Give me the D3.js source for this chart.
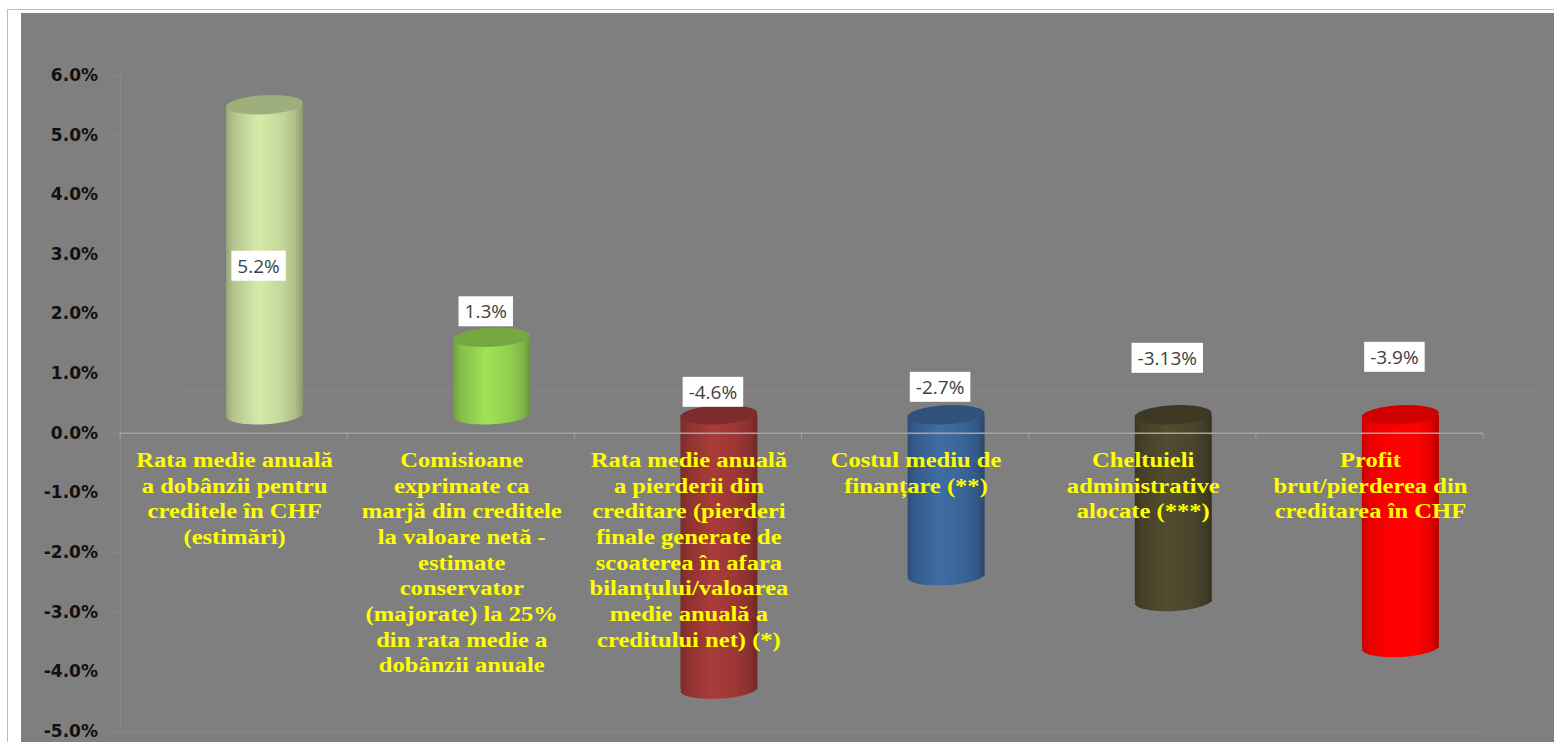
<!DOCTYPE html>
<html><head><meta charset="utf-8">
<script src="https://cdn.jsdelivr.net/npm/d3@7"></script>
<style>html,body{margin:0;padding:0;background:#fff;overflow:hidden}</style>
</head><body><svg id="chart" width="1554" height="742"></svg>
<script>
// ---------- DATA ----------
const categories = [
  "Rata medie anuală\na dobânzii pentru\ncreditele în CHF\n(estimări)",
  "Comisioane\nexprimate ca\nmarjă din creditele\nla valoare netă -\nestimate\nconservator\n(majorate) la 25%\ndin rata medie a\ndobânzii anuale",
  "Rata medie anuală\na pierderii din\ncreditare (pierderi\nfinale generate de\nscoaterea în afara\nbilanțului/valoarea\nmedie anuală a\ncreditului net) (*)",
  "Costul mediu de\nfinanțare (**)",
  "Cheltuieli\nadministrative\nalocate (***)",
  "Profit\nbrut/pierderea din\ncreditarea în CHF"
];
const values = [5.2, 1.3, -4.6, -2.7, -3.13, -3.9];
const valueLabels = ["5.2%", "1.3%", "-4.6%", "-2.7%", "-3.13%", "-3.9%"];
const yTicks = [6, 5, 4, 3, 2, 1, 0, -1, -2, -3, -4, -5];

// ---------- STYLE / LAYOUT ----------
const barColors = ["#c4d79b", "#92d050", "#9b3735", "#3a6497", "#4b462c", "#ff0000"];
const labelRaise = [null, 26, 23, 28, 57, 58]; // px above the cylinder's top face (null = centred)
const W = 1554, H = 742;
const mLeft = 120, mRight = 1483, mTop = 75, mBottom = 731;
const depthX = 63, depthY = -41;        // back wall offset
const barShiftX = 31, barShiftY = -18;  // bars sit mid-depth
const svg = d3.select("#chart");

const y = d3.scaleLinear().domain([-5, 6]).range([mBottom, mTop]);
const x = d3.scaleBand().domain(d3.range(categories.length)).range([mLeft, mRight]).padding(0);
const barW = 77, ry = 9.5;

// frame and background
svg.append("rect").attr("x", 7.5).attr("y", 9.5).attr("width", W).attr("height", H)
  .attr("fill", "#fff").attr("stroke", "#bdbdbd");
svg.append("rect").attr("x", 21).attr("y", 13).attr("width", W - 21).attr("height", H - 13).attr("fill", "#7f7f7f");

const faint = "#888888";
// back wall & floor edges
svg.append("line").attr("x1", mLeft + depthX).attr("x2", mRight + depthX)
  .attr("y1", y(6) + depthY).attr("y2", y(6) + depthY).attr("stroke", "#848484");
svg.append("line").attr("x1", mRight + depthX - 3).attr("x2", mRight + depthX - 3)
  .attr("y1", y(6) + depthY).attr("y2", y(0) + depthY).attr("stroke", "#848484");
svg.append("line").attr("x1", mLeft + depthX).attr("x2", mRight + depthX - 3)
  .attr("y1", y(0) + depthY).attr("y2", y(0) + depthY).attr("stroke", faint);
// bottom edge
svg.append("line").attr("x1", mLeft).attr("x2", mRight)
  .attr("y1", y(-5) + 0.5).attr("y2", y(-5) + 0.5).attr("stroke", faint);

// y axis
const yAxis = d3.axisLeft(y).tickValues(yTicks).tickSize(7).tickPadding(15)
  .tickFormat(d => d.toFixed(1) + "%");
const ga = svg.append("g").attr("transform", `translate(${mLeft},0)`).call(yAxis);
ga.select(".domain").attr("stroke", faint);
ga.selectAll(".tick line").attr("stroke", faint);
ga.selectAll(".tick text").attr("fill", "#111")
  .style("font-family", "'DejaVu Sans', Verdana, sans-serif").style("font-weight", "bold").style("font-size", "17px");

// gradients
const defs = svg.append("defs");
barColors.forEach((c, i) => {
  const col = d3.color(c);
  const g = defs.append("linearGradient").attr("id", "g" + i).attr("x1", 0).attr("x2", 1).attr("y1", 0).attr("y2", 0);
  [[0, col.darker(0.7)], [0.1, col.darker(0.25)], [0.42, col.brighter(0.25)], [0.72, col], [0.9, col.darker(0.35)], [1, col.darker(0.95)]]
    .forEach(([o, cc]) => g.append("stop").attr("offset", o).attr("stop-color", cc.formatHex()));
});

// cylinders
const bars = svg.append("g");
values.forEach((v, i) => {
  const cx = x(i) + x.bandwidth() / 2 + barShiftX;
  const yTop = Math.min(y(v), y(0)) + barShiftY;
  const yBot = Math.max(y(v), y(0)) + barShiftY;
  const g = bars.append("g");
  g.append("ellipse").attr("cx", cx).attr("cy", yBot).attr("rx", barW / 2).attr("ry", ry)
    .attr("transform", `rotate(-3,${cx},${yBot})`).attr("fill", `url(#g${i})`);
  g.append("rect").attr("x", cx - barW / 2).attr("y", yTop).attr("width", barW).attr("height", yBot - yTop)
    .attr("fill", `url(#g${i})`);
  g.append("ellipse").attr("cx", cx).attr("cy", yTop).attr("rx", barW / 2).attr("ry", ry)
    .attr("transform", `rotate(-3,${cx},${yTop})`)
    .attr("fill", d3.color(barColors[i]).darker(0.6).formatHex());
});

// front floor edge (drawn over bars)
svg.append("line").attr("x1", mLeft).attr("x2", mRight).attr("y1", y(0) + 0.5).attr("y2", y(0) + 0.5)
  .attr("stroke", "#a3a3a3").attr("stroke-width", 1.5);
d3.range(categories.length + 1).forEach(i => {
  const xx = mLeft + i * x.bandwidth();
  svg.append("line").attr("x1", xx).attr("x2", xx).attr("y1", y(0)).attr("y2", y(0) + 6).attr("stroke", "#a3a3a3");
});

// category labels
categories.forEach((c, i) => {
  const cx = x(i) + x.bandwidth() / 2 + 1;
  const t = svg.append("g").attr("transform", `translate(${cx},${y(0) + 34}) scale(1.17,1)`)
    .append("text").attr("text-anchor", "middle").attr("fill", "#ffff00")
    .style("font-family", "'Liberation Serif', 'Times New Roman', serif").style("font-weight", "bold").style("font-size", "21px");
  c.split("\n").forEach((ln, k) => t.append("tspan").attr("x", 0).attr("y", k * 25.7).text(ln));
});

// value labels
values.forEach((v, i) => {
  const cx = x(i) + x.bandwidth() / 2 + barShiftX - 6;
  const yTop = Math.min(y(v), y(0)) + barShiftY;
  const cy = labelRaise[i] === null ? (y(v) + y(0)) / 2 + barShiftY + 6 : yTop - labelRaise[i];
  const g = svg.append("g");
  const txt = g.append("text").attr("x", cx).attr("y", cy + 7).attr("text-anchor", "middle").attr("fill", "#404040")
    .style("font-family", "'Open Sans', sans-serif").style("font-size", "19px").text(valueLabels[i]);
  const bb = txt.node().getBBox();
  g.insert("rect", "text").attr("x", bb.x - 6).attr("y", cy - 15).attr("width", bb.width + 12).attr("height", 30)
    .attr("fill", "#fff");
});
</script></body></html>
